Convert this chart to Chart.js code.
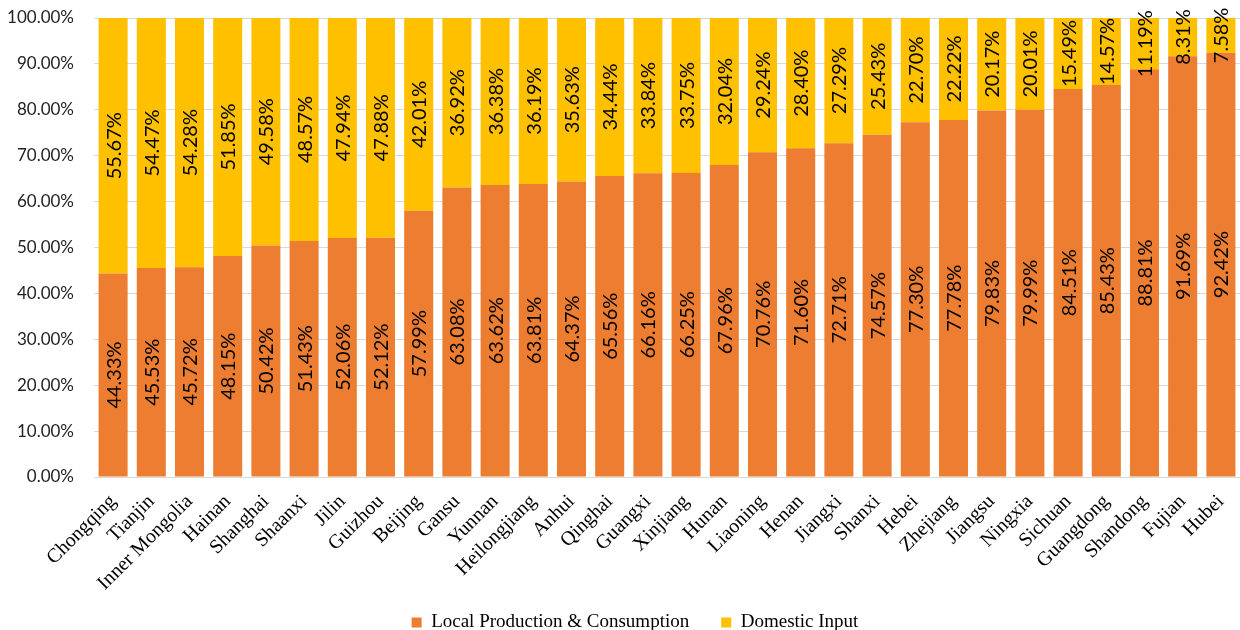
<!DOCTYPE html>
<html>
<head>
<meta charset="utf-8">
<script src="https://cdn.jsdelivr.net/npm/chart.js@4/dist/chart.umd.min.js"></script>
<style>
  html, body { margin: 0; padding: 0; background: #fff; }
  #wrap { width: 1240px; height: 630px; }
</style>
</head>
<body>
<div id="wrap"><canvas id="myChart" width="1240" height="630"></canvas></div>
<script>
const provinces = ['Chongqing', 'Tianjin', 'Inner Mongolia', 'Hainan', 'Shanghai', 'Shaanxi', 'Jilin', 'Guizhou',
  'Beijing', 'Gansu', 'Yunnan', 'Heilongjiang', 'Anhui', 'Qinghai', 'Guangxi', 'Xinjiang', 'Hunan', 'Liaoning',
  'Henan', 'Jiangxi', 'Shanxi', 'Hebei', 'Zhejiang', 'Jiangsu', 'Ningxia', 'Sichuan', 'Guangdong', 'Shandong',
  'Fujian', 'Hubei'];

const localProduction = [44.33, 45.53, 45.72, 48.15, 50.42, 51.43, 52.06, 52.12, 57.99, 63.08, 63.62, 63.81,
  64.37, 65.56, 66.16, 66.25, 67.96, 70.76, 71.60, 72.71, 74.57, 77.30, 77.78, 79.83, 79.99, 84.51, 85.43,
  88.81, 91.69, 92.42];

const domesticInput = [55.67, 54.47, 54.28, 51.85, 49.58, 48.57, 47.94, 47.88, 42.01, 36.92, 36.38, 36.19,
  35.63, 34.44, 33.84, 33.75, 32.04, 29.24, 28.40, 27.29, 25.43, 22.70, 22.22, 20.17, 20.01, 15.49, 14.57,
  11.19, 8.31, 7.58];

const yTicks = [0, 10, 20, 30, 40, 50, 60, 70, 80, 90, 100];

// vertical value labels in the middle of each segment
const barLabels = {
  id: 'barLabels',
  afterDatasetsDraw(chart) {
    const ctx = chart.ctx;
    ctx.save();
    ctx.fillStyle = '#000';
    ctx.font = '20px Lato';
    ctx.textAlign = 'center';
    ctx.textBaseline = 'middle';
    chart.data.datasets.forEach((ds, i) => {
      chart.getDatasetMeta(i).data.forEach((bar, j) => {
        const mid = (bar.y + bar.base) / 2;
        ctx.save();
        ctx.translate(bar.x, mid);
        ctx.rotate(-Math.PI / 2);
        ctx.fillText(ds.data[j].toFixed(2) + '%', 0, 1);
        ctx.restore();
      });
    });
    ctx.restore();
  }
};

// labels may run outside their axis box, like in the source chart
const noClip = () => undefined;

const ctx = document.querySelector('#myChart').getContext('2d');

new Chart(ctx, {
  type: 'bar',
  data: {
    labels: provinces,
    datasets: [
      {
        label: 'Local Production & Consumption',
        data: localProduction,
        backgroundColor: '#ED7D31',
        barPercentage: 0.76,
        categoryPercentage: 1,
      },
      {
        label: 'Domestic Input',
        data: domesticInput,
        backgroundColor: '#FFC000',
        barPercentage: 0.76,
        categoryPercentage: 1,
      },
    ],
  },
  options: {
    responsive: false,
    animation: false,
    layout: { padding: { left: 30, right: 0, top: 18, bottom: -12 } },
    scales: {
      x: {
        stacked: true,
        grid: { display: false },
        border: { color: '#D9D9D9', width: 1 },
        afterFit: s => {
          s.paddingLeft = 0;
          s.paddingRight = 0;
          s.height = 104;
          s._computeLabelArea = noClip;
        },
        ticks: {
          autoSkip: false,
          maxRotation: 45,
          minRotation: 45,
          color: '#000',
          padding: 5,
          font: { family: 'Liberation Serif', size: 20 },
        },
      },
      y: {
        stacked: true,
        min: 0,
        max: 100,
        afterBuildTicks: axis => { axis.ticks = yTicks.map(v => ({ value: v })); },
        afterFit: s => {
          s.width = 64;
          s.paddingTop = 0;
          s.paddingBottom = 0;
          s._computeLabelArea = noClip;
        },
        grid: { color: '#D9D9D9', lineWidth: 1, drawTicks: false },
        border: { display: false },
        ticks: {
          color: '#222',
          padding: 20,
          font: { family: 'Lato', size: 17 },
          callback: v => v.toFixed(2) + '%',
        },
      },
    },
    plugins: {
      legend: {
        position: 'bottom',
        labels: {
          boxWidth: 10,
          boxHeight: 10,
          padding: 32,
          color: '#000',
          font: { family: 'Liberation Serif', size: 19 },
        },
      },
      tooltip: { enabled: false },
    },
  },
  plugins: [barLabels],
});
</script>
</body>
</html>
